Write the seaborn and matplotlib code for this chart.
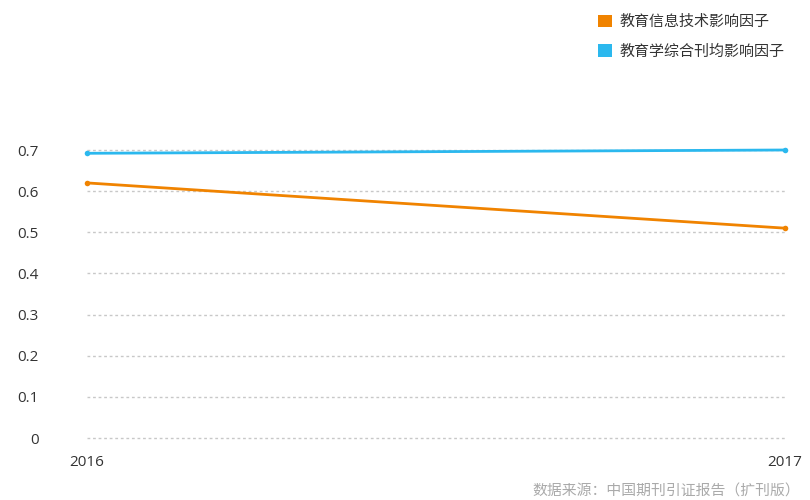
import matplotlib
matplotlib.use("Agg")
import matplotlib.pyplot as plt
import seaborn as sns
import pandas as pd
from matplotlib.patches import Patch

years = ["2016", "2017"]
series_names = ["教育信息技术影响因子", "教育学综合刊均影响因子"]
info_tech = [0.62, 0.51]
edu_avg = [0.692, 0.70]
y_ticks = [0, 0.1, 0.2, 0.3, 0.4, 0.5, 0.6, 0.7]
source_text = "数据来源：中国期刊引证报告（扩刊版）"

colors = ["#F08300", "#2BB8EE"]

sns.set_theme(style="white")
plt.rcParams['font.family'] = ['Noto Sans CJK SC', 'DejaVu Sans']

df = pd.DataFrame({
    "year": [0, 1] * 2,
    "value": info_tech + edu_avg,
    "series": [series_names[0]] * 2 + [series_names[1]] * 2,
})

fig = plt.figure(figsize=(8.1, 5.0), dpi=100)
ax = fig.add_axes([87/810, 1-438/500, (785-87)/810, (438-150)/500])

sns.lineplot(data=df, x="year", y="value", hue="series", palette=colors,
             marker="o", markersize=4, markeredgewidth=0, linewidth=2,
             ax=ax, legend=False, zorder=3)
for line in ax.lines:
    line.set_clip_on(False)

ax.set_xlim(0, 1)
ax.set_ylim(0, 0.7)
ax.set_yticks(y_ticks)
ax.set_yticklabels(["0"] + [f"{v:.1f}" for v in y_ticks[1:]])
ax.set_xticks([0, 1])
ax.set_xticklabels(years)
ax.set_xlabel("")
ax.set_ylabel("")
for s in ax.spines.values():
    s.set_visible(False)
ax.grid(axis="y", color="#c8c8c8", linestyle=(0, (2, 2)), linewidth=1)
ax.grid(axis="x", visible=False)
for gl in ax.get_ygridlines():
    gl.set_clip_on(False)
ax.tick_params(axis="y", length=0, pad=35, labelsize=11, labelcolor="#333333")
ax.tick_params(axis="x", length=0, pad=12, labelsize=11, labelcolor="#333333")
for lab in ax.get_xticklabels() + ax.get_yticklabels():
    lab.set_family(['Open Sans', 'DejaVu Sans'])

handles = [Patch(facecolor=c, edgecolor="none") for c in colors]
fig.legend(handles, series_names, loc="upper left", bbox_to_anchor=(584/810, 1-1/500),
           frameon=False, fontsize=10.8, handlelength=0.95, handleheight=0.95,
           handletextpad=0.5, labelspacing=1.0, labelcolor="#333333")

fig.text(800/810, 1-492/500, source_text, ha="right", va="center",
         fontsize=10.7, color="#aaaaaa")

fig.savefig("out.png", dpi=100)
